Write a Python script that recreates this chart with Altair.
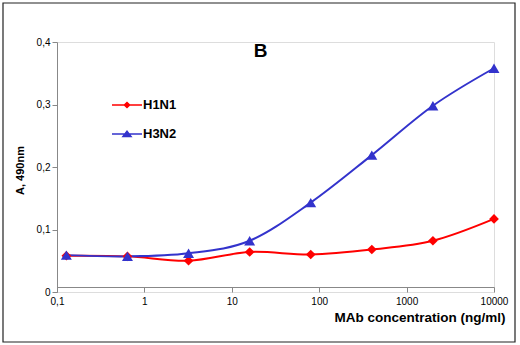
import altair as alt
import pandas as pd

conc = [0.128, 0.64, 3.2, 16, 80, 400, 2000, 10000]
h1n1 = [0.058, 0.057, 0.050, 0.064, 0.060, 0.068, 0.082, 0.117]
h3n2 = [0.059, 0.057, 0.062, 0.082, 0.143, 0.219, 0.298, 0.358]
series = ["H1N1", "H3N2"]
colors = ["#ff0000", "#3333cc"]
x_ticks = [0.1, 1, 10, 100, 1000, 10000]
y_ticks = [0, 0.1, 0.2, 0.3, 0.4]

rows = []
for c, v in zip(conc, h1n1):
    rows.append({"conc": c, "A": v, "series": "H1N1"})
for c, v in zip(conc, h3n2):
    rows.append({"conc": c, "A": v, "series": "H3N2"})
df = pd.DataFrame(rows)

FONT = "Liberation Sans"
W, H = 437, 250

xenc = alt.X(
    "conc:Q",
    scale=alt.Scale(type="log", domain=[0.1, 10000]),
    axis=alt.Axis(
        values=x_ticks,
        labelExpr="replace(format(datum.value, '~g'), '.', ',')",
        title="MAb concentration (ng/ml)",
        titleAnchor="end",
        titleAlign="right",
        titleX=448,
        titleY=34,
        titleBaseline="alphabetic",
        titleFontSize=13.5,
        offset=-5,
        grid=False,
        tickSize=5,
        labelPadding=4,
        labelFlush=False,
    ),
)
yenc = alt.Y(
    "A:Q",
    scale=alt.Scale(domain=[0, 0.4]),
    axis=alt.Axis(
        values=y_ticks,
        labelExpr="replace(format(datum.value, '~g'), '.', ',')",
        title="A, 490nm",
        titleAngle=270,
        titleX=-37,
        titleY=128,
        titleAlign="center",
        titleBaseline="middle",
        grid=False,
        tickSize=5,
        labelPadding=2,
    ),
)

cscale = alt.Scale(domain=series, range=colors)

base = alt.Chart(df)

lines = base.mark_line(interpolate="cardinal", strokeWidth=2).encode(
    x=xenc, y=yenc,
    color=alt.Color("series:N", scale=cscale, legend=None),
    detail="series:N",
)

points = base.mark_point(filled=True, opacity=1).encode(
    x=xenc, y=yenc,
    color=alt.Color("series:N", scale=cscale, legend=None),
    shape=alt.Shape("series:N", scale=alt.Scale(domain=series, range=["diamond", "triangle-up"]), legend=None),
    size=alt.Size("series:N", scale=alt.Scale(domain=series, range=[95, 120]), legend=None),
)

leg_paths = [
    "M-1,-0.05H1V0.05H-1Z M0,-0.24L0.25,0L0,0.24L-0.25,0Z",
    "M0,-0.26L0.37,0.22L-0.37,0.22Z M-1,-0.05H1V0.05H-1Z",
]
leg_props = dict(
    title=None, orient="none", legendX=55, legendY=48, padding=0,
    symbolSize=900, symbolStrokeWidth=0, labelOffset=1, rowPadding=7,
    labelFont=FONT, labelFontSize=13, labelFontWeight="bold", labelColor="black",
)
legend = base.transform_filter("false").mark_point(filled=True, opacity=1).encode(
    x=xenc, y=yenc,
    color=alt.Color("series:N", scale=cscale, legend=alt.Legend(**leg_props)),
    shape=alt.Shape("series:N", scale=alt.Scale(domain=series, range=leg_paths),
                    legend=alt.Legend(**leg_props)),
)

frame = alt.Chart(pd.DataFrame({"a": [0]})).mark_rect(
    fill=None, stroke="#222222", strokeWidth=1.2
).encode(
    x=alt.value(-54), x2=alt.value(458), y=alt.value(-39), y2=alt.value(300)
)

chart = alt.layer(frame, lines, points, legend).resolve_scale(
    color="independent", shape="independent"
).properties(
    width=W, height=H,
    autosize=alt.AutoSizeParams(type="none"),
    padding={"left": 57, "top": 42, "right": 26, "bottom": 53},
    title=alt.TitleParams("B", font=FONT, fontSize=19, fontWeight="bold", color="black",
                          anchor="middle", dx=-15, dy=74, offset=0, baseline="alphabetic"),
).configure_view(stroke=None).configure_axis(
    domainColor="black", tickColor="black", labelColor="black", titleColor="black",
    labelFont=FONT, labelFontSize=11, titleFont=FONT, titleFontSize=12, titleFontWeight="bold",
    domainWidth=1, tickWidth=1,
).configure(background="white")

chart.save("out.html", embed_options={"renderer": "svg", "actions": False})
